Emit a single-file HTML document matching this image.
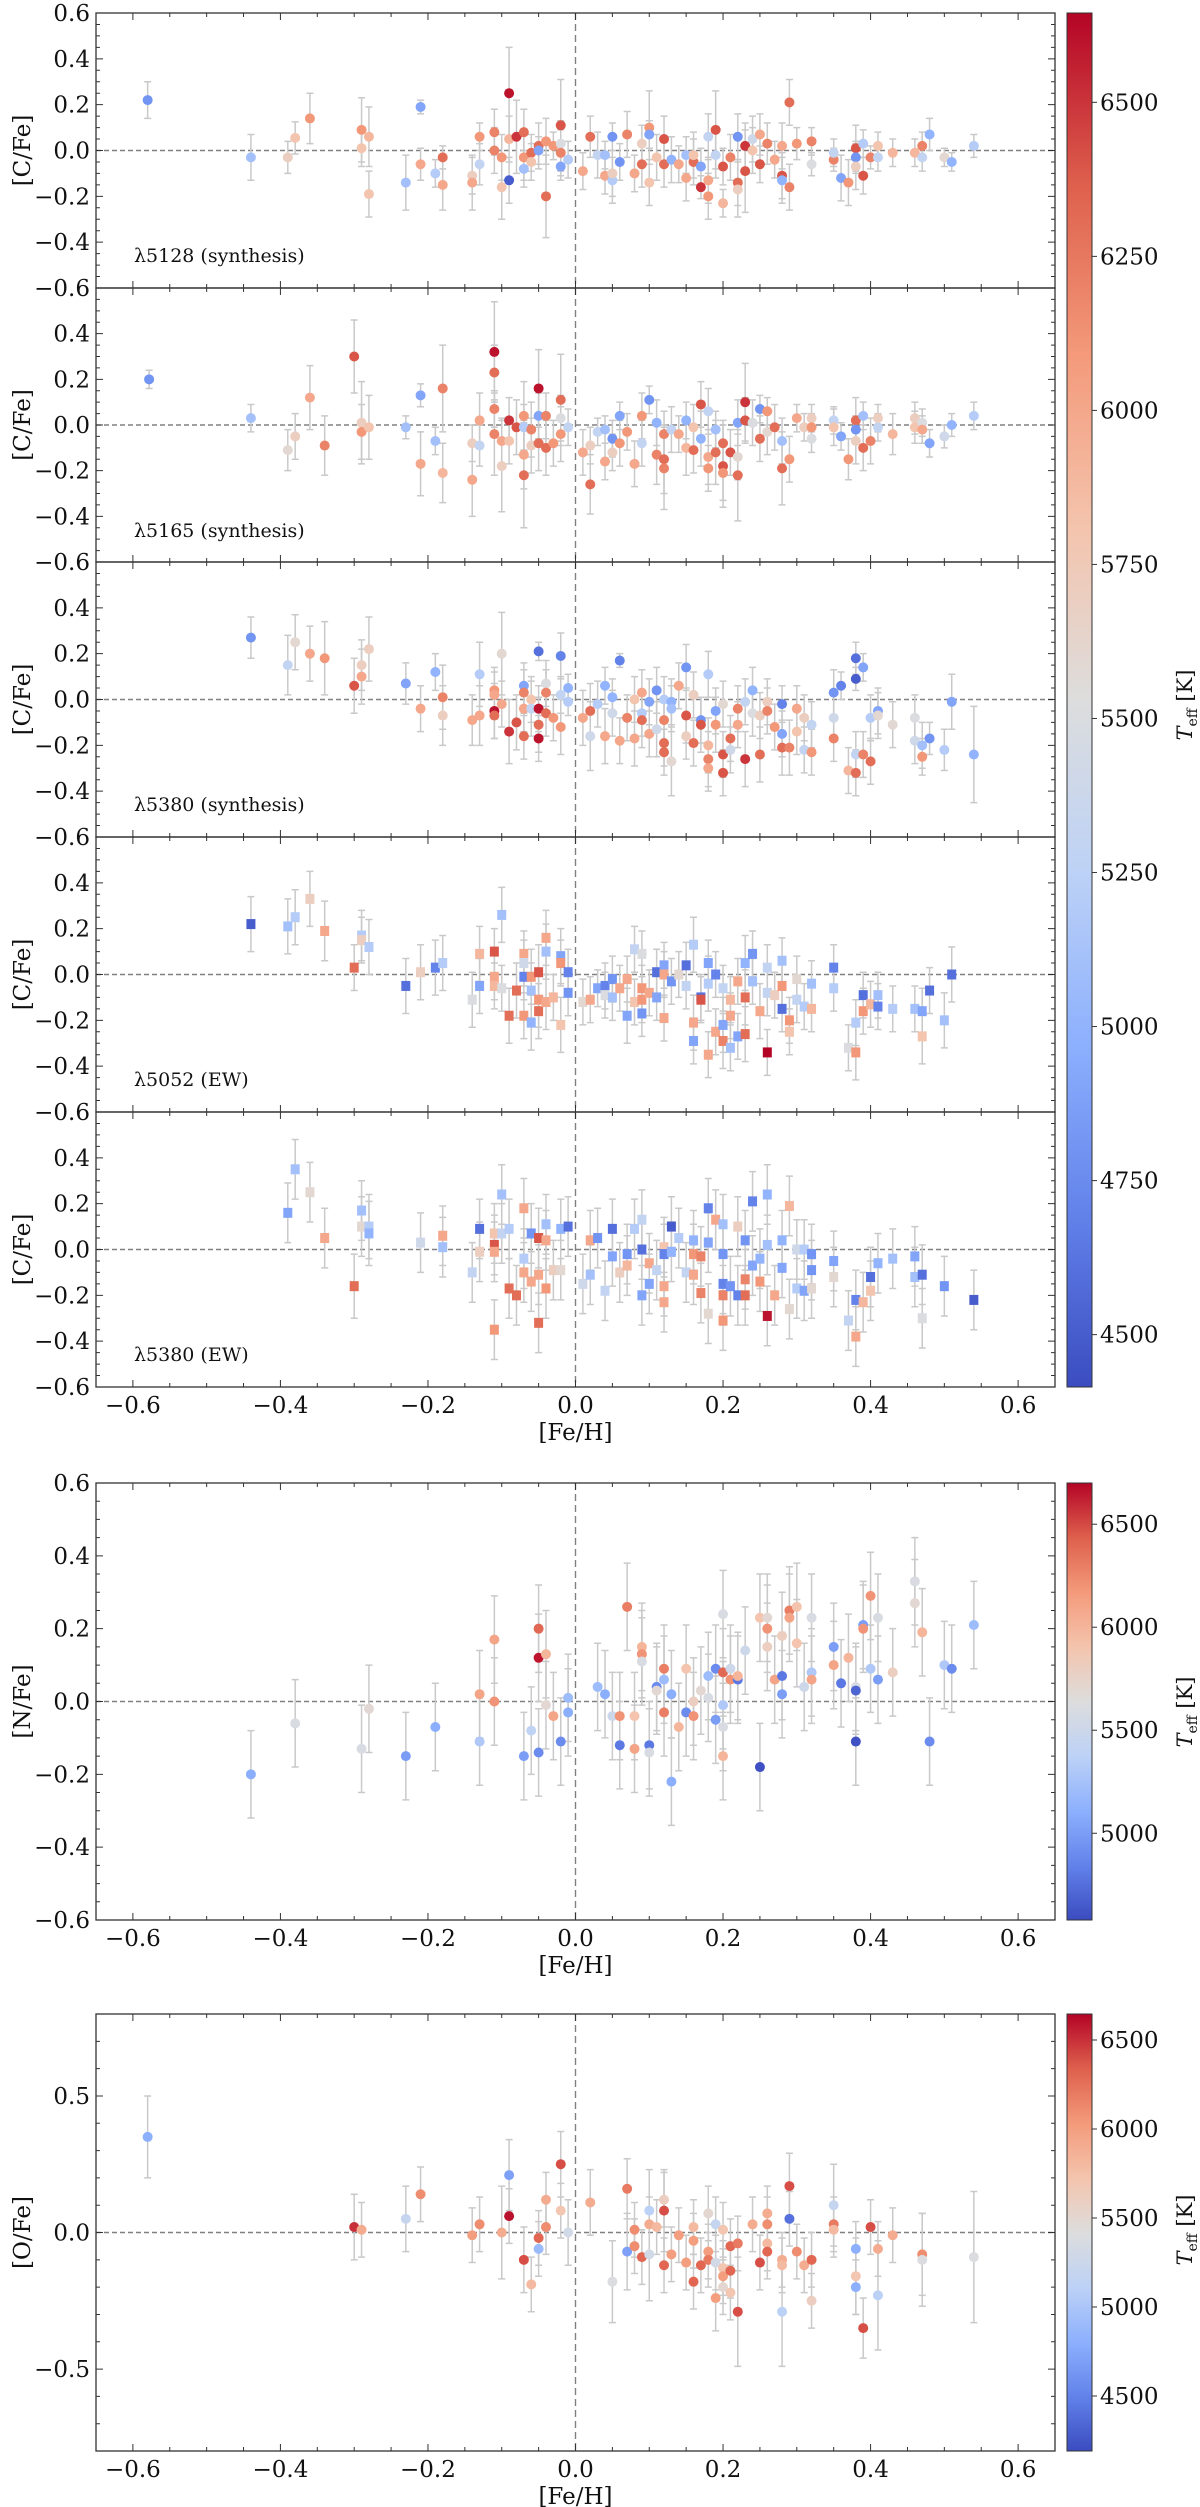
<!DOCTYPE html>
<html><head><meta charset="utf-8"><title>Abundance ratios vs [Fe/H]</title>
<style>
html,body{margin:0;padding:0;background:#fff;}
svg{display:block;font-family:"DejaVu Serif","Liberation Serif",serif;}
</style></head>
<body>
<svg id="fig" width="1200" height="2507" viewBox="0 0 1200 2507" xmlns="http://www.w3.org/2000/svg">
<defs>
<linearGradient id="cw" x1="0" y1="1" x2="0" y2="0">
<stop offset="0" stop-color="rgb(59,76,192)"/>
<stop offset="0.125" stop-color="rgb(98,130,234)"/>
<stop offset="0.25" stop-color="rgb(141,176,254)"/>
<stop offset="0.375" stop-color="rgb(189,210,246)"/>
<stop offset="0.5" stop-color="rgb(221,221,221)"/>
<stop offset="0.625" stop-color="rgb(244,196,173)"/>
<stop offset="0.75" stop-color="rgb(244,154,123)"/>
<stop offset="0.875" stop-color="rgb(222,96,77)"/>
<stop offset="1" stop-color="rgb(180,4,38)"/>
</linearGradient>
</defs>
</svg>
<script>
// ---------- data: [ [Fe/H], value, error, Teff ] ----------
const c5128Synth = [
[-0.58,0.22,0.08,4800],[-0.44,-0.03,0.1,5100],[-0.39,-0.03,0.07,5700],[-0.38,0.055,0.07,5800],[-0.36,0.14,0.11,6100],
[-0.29,0.09,0.14,6100],[-0.29,0.01,0.08,5800],[-0.28,0.06,0.13,5900],[-0.28,-0.19,0.1,5800],[-0.23,-0.14,0.12,5100],
[-0.21,0.19,0.03,4900],[-0.21,-0.06,0.07,6000],[-0.19,-0.10,0.06,5200],[-0.18,-0.03,0.05,6300],[-0.18,-0.15,0.11,6000],
[-0.14,-0.11,0.08,5700],[-0.14,-0.14,0.12,6000],[-0.13,0.06,0.06,6100],[-0.13,-0.06,0.09,5300],[-0.11,0.08,0.1,6200],
[-0.11,0.0,0.1,6200],[-0.10,-0.03,0.1,6100],[-0.10,-0.16,0.14,5800],[-0.09,0.25,0.2,6600],[-0.09,0.05,0.1,5900],
[-0.09,-0.13,0.1,4500],[-0.08,0.06,0.16,6500],[-0.07,0.08,0.1,6300],[-0.07,-0.03,0.1,6100],[-0.07,-0.08,0.08,5100],
[-0.06,-0.01,0.08,6300],[-0.06,-0.05,0.08,5800],[-0.05,0.02,0.1,6300],[-0.05,0.0,0.06,4900],[-0.04,0.04,0.1,6100],
[-0.04,-0.20,0.18,6300],[-0.03,0.02,0.06,6100],[-0.02,0.11,0.2,6400],[-0.02,0.03,0.1,5500],[-0.02,-0.01,0.1,6200],
[-0.02,-0.07,0.06,4900],[-0.01,-0.04,0.08,5200],[0.01,-0.09,0.08,6000],[0.02,0.06,0.09,6300],[0.03,-0.02,0.1,5300],
[0.04,-0.02,0.06,5100],[0.04,-0.11,0.08,6000],[0.05,0.06,0.06,4800],[0.05,-0.13,0.1,5200],[0.05,-0.1,0.1,5700],
[0.06,-0.05,0.08,4800],[0.07,0.07,0.1,6200],[0.08,-0.10,0.08,6000],[0.09,0.03,0.08,5700],[0.09,-0.06,0.1,6300],
[0.10,0.10,0.16,6100],[0.10,0.07,0.06,4900],[0.10,-0.14,0.1,5800],[0.11,-0.03,0.1,5800],[0.12,0.05,0.1,6400],
[0.12,-0.06,0.1,6300],[0.13,-0.04,0.1,5000],[0.14,-0.06,0.08,6000],[0.15,-0.02,0.08,5100],[0.15,-0.12,0.1,6000],
[0.16,-0.05,0.1,6300],[0.16,-0.02,0.1,5800],[0.17,-0.07,0.08,4900],[0.17,-0.16,0.05,6500],[0.18,0.06,0.1,5300],
[0.18,-0.13,0.1,6000],[0.18,-0.20,0.1,6100],[0.19,0.09,0.17,6400],[0.19,-0.02,0.1,5300],[0.20,-0.07,0.08,6400],
[0.20,-0.23,0.06,5900],[0.21,-0.03,0.1,6200],[0.22,0.06,0.1,4800],[0.22,-0.14,0.1,6300],[0.22,-0.17,0.12,5700],
[0.23,0.02,0.1,6500],[0.23,-0.09,0.18,6400],[0.24,0.05,0.1,5400],[0.24,0.0,0.1,5800],[0.25,0.07,0.09,6000],
[0.25,-0.06,0.08,6400],[0.26,0.03,0.09,6200],[0.27,-0.04,0.08,6000],[0.28,0.02,0.1,6000],[0.28,-0.11,0.1,6400],
[0.28,-0.13,0.1,5000],[0.29,0.21,0.1,6300],[0.29,-0.16,0.1,6200],[0.30,0.03,0.07,6100],[0.32,0.04,0.06,6200],
[0.32,-0.06,0.05,5500],[0.35,-0.04,0.05,6200],[0.35,-0.01,0.06,5300],[0.36,-0.12,0.1,4900],[0.37,-0.14,0.1,6100],
[0.38,0.01,0.1,6400],[0.38,-0.03,0.07,4800],[0.38,-0.07,0.1,5700],[0.39,0.03,0.06,5200],[0.39,-0.11,0.08,6400],
[0.40,-0.03,0.05,6200],[0.41,0.02,0.06,5800],[0.41,-0.03,0.06,5300],[0.43,-0.01,0.06,5900],[0.46,-0.01,0.06,5900],
[0.47,0.02,0.06,6200],[0.47,-0.03,0.06,5300],[0.48,0.07,0.07,5000],[0.50,-0.03,0.04,5600],[0.51,-0.05,0.04,5000],
[0.54,0.02,0.05,5200]];
const c5165Synth = [
[-0.578,0.20,0.04,4800],[-0.44,0.03,0.06,5100],[-0.39,-0.11,0.09,5600],[-0.38,-0.05,0.1,5700],[-0.36,0.12,0.14,6000],
[-0.34,-0.09,0.13,6200],[-0.30,0.30,0.16,6400],[-0.29,0.01,0.18,5700],[-0.29,-0.03,0.12,6100],[-0.28,-0.01,0.14,5800],
[-0.23,-0.01,0.05,5100],[-0.21,0.13,0.05,4900],[-0.21,-0.17,0.14,6000],[-0.19,-0.07,0.06,5100],[-0.18,0.16,0.19,6200],
[-0.18,-0.21,0.13,5900],[-0.14,-0.08,0.08,5700],[-0.14,-0.24,0.16,6000],[-0.13,0.02,0.12,6000],[-0.13,-0.09,0.09,5300],
[-0.11,0.32,0.22,6600],[-0.11,0.23,0.12,6300],[-0.11,0.07,0.08,6200],[-0.11,-0.04,0.18,6200],[-0.10,-0.07,0.1,6000],
[-0.10,-0.18,0.2,5700],[-0.09,0.02,0.1,6500],[-0.09,-0.07,0.1,5800],[-0.08,-0.01,0.12,6400],[-0.07,0.04,0.15,6100],
[-0.07,-0.13,0.15,6000],[-0.07,-0.22,0.23,6300],[-0.07,-0.01,0.1,5200],[-0.06,-0.02,0.12,6200],[-0.06,-0.09,0.12,5700],
[-0.05,0.16,0.17,6600],[-0.05,0.04,0.1,4900],[-0.05,-0.08,0.12,6300],[-0.04,0.04,0.1,6200],[-0.04,-0.10,0.12,6300],
[-0.03,-0.08,0.1,6100],[-0.02,0.11,0.2,6300],[-0.02,0.03,0.1,5500],[-0.02,-0.04,0.12,6100],[-0.01,-0.01,0.08,5300],
[0.01,-0.12,0.1,6000],[0.02,-0.09,0.08,5700],[0.02,-0.26,0.13,6300],[0.03,-0.03,0.06,5300],[0.04,-0.02,0.06,5100],
[0.04,-0.16,0.08,6000],[0.05,-0.06,0.08,4800],[0.05,-0.12,0.08,5700],[0.06,0.04,0.06,4900],[0.06,-0.08,0.1,6100],
[0.07,-0.03,0.08,6100],[0.08,-0.17,0.1,6000],[0.09,0.04,0.1,6100],[0.09,-0.08,0.1,5300],[0.10,0.11,0.06,4800],
[0.11,0.01,0.1,5000],[0.11,-0.13,0.13,6200],[0.12,-0.15,0.15,6300],[0.12,-0.19,0.18,6200],[0.12,-0.04,0.1,6200],
[0.13,-0.02,0.1,5300],[0.14,-0.04,0.08,6000],[0.15,0.02,0.08,5000],[0.15,-0.10,0.12,5900],[0.16,-0.11,0.1,6300],
[0.16,-0.01,0.1,5800],[0.17,0.09,0.1,6400],[0.17,-0.06,0.12,5000],[0.18,0.06,0.1,5300],[0.18,-0.14,0.12,6000],
[0.18,-0.19,0.1,6100],[0.19,-0.02,0.08,5100],[0.19,-0.12,0.14,6300],[0.20,-0.08,0.1,6300],[0.20,-0.18,0.18,6400],
[0.20,-0.21,0.12,6100],[0.21,-0.12,0.1,6400],[0.22,0.01,0.1,4900],[0.22,-0.14,0.1,5600],[0.22,-0.22,0.2,6300],
[0.23,0.10,0.17,6500],[0.23,0.02,0.1,6400],[0.24,0.01,0.1,5500],[0.25,0.07,0.06,4800],[0.25,-0.06,0.1,6300],
[0.26,0.06,0.06,6100],[0.26,-0.03,0.1,5600],[0.27,-0.01,0.1,6300],[0.28,-0.07,0.1,5100],[0.28,-0.19,0.16,6300],
[0.29,-0.15,0.1,6100],[0.30,0.03,0.06,6000],[0.31,-0.01,0.06,5700],[0.32,0.03,0.06,5700],[0.32,-0.01,0.06,6100],
[0.32,-0.06,0.06,5500],[0.35,0.02,0.06,5300],[0.35,-0.01,0.08,5800],[0.36,-0.05,0.06,4900],[0.37,-0.15,0.09,6100],
[0.38,0.02,0.1,6300],[0.38,-0.02,0.06,4800],[0.38,-0.07,0.1,5700],[0.39,0.04,0.06,5100],[0.39,-0.10,0.1,6300],
[0.40,-0.07,0.1,6200],[0.41,-0.01,0.06,5300],[0.41,0.03,0.06,5700],[0.43,-0.04,0.09,5900],[0.46,0.03,0.07,5700],
[0.46,-0.01,0.07,5800],[0.47,0.01,0.06,5500],[0.47,-0.02,0.06,6000],[0.48,-0.08,0.06,4900],[0.50,-0.05,0.05,5400],
[0.51,0.00,0.05,5000],[0.54,0.04,0.06,5200]];
const c5380Synth = [
[-0.44,0.27,0.09,4800],[-0.39,0.15,0.13,5300],[-0.38,0.25,0.12,5600],[-0.36,0.20,0.12,6000],[-0.34,0.18,0.16,6100],
[-0.30,0.06,0.12,6400],[-0.29,0.15,0.11,5700],[-0.29,0.10,0.12,6000],[-0.28,0.22,0.14,5700],[-0.23,0.07,0.09,4900],
[-0.21,-0.04,0.1,6000],[-0.19,0.12,0.08,5000],[-0.18,0.01,0.14,6200],[-0.18,-0.07,0.13,5700],[-0.14,-0.09,0.11,6000],
[-0.13,-0.07,0.13,6000],[-0.13,0.11,0.14,5200],[-0.11,0.04,0.1,6100],[-0.11,0.02,0.1,6000],[-0.11,-0.05,0.12,6600],
[-0.11,-0.07,0.1,6300],[-0.10,0.20,0.18,5600],[-0.10,-0.02,0.1,6000],[-0.09,-0.14,0.14,6500],[-0.08,-0.10,0.12,6400],
[-0.07,0.06,0.1,4900],[-0.07,0.03,0.1,6200],[-0.07,-0.04,0.1,6000],[-0.07,-0.16,0.1,6300],[-0.06,0.0,0.1,5800],
[-0.06,-0.04,0.12,5300],[-0.05,0.21,0.04,4600],[-0.05,-0.04,0.1,6600],[-0.05,-0.11,0.12,6300],[-0.05,-0.17,0.1,6600],
[-0.04,0.07,0.1,5500],[-0.04,0.03,0.1,6200],[-0.04,-0.06,0.1,6300],[-0.03,-0.08,0.1,6100],[-0.02,0.19,0.1,4700],
[-0.02,0.02,0.08,5300],[-0.02,-0.12,0.12,6100],[-0.01,0.05,0.06,5000],[-0.01,-0.01,0.06,5200],[0.01,-0.08,0.12,6000],
[0.02,-0.05,0.12,6300],[0.02,-0.16,0.15,5400],[0.03,-0.02,0.1,5200],[0.04,0.06,0.08,5000],[0.04,-0.16,0.12,6000],
[0.05,0.01,0.08,5000],[0.05,-0.06,0.1,5400],[0.06,0.17,0.03,4700],[0.06,-0.18,0.1,6000],[0.07,-0.08,0.1,6200],
[0.08,0.0,0.1,5800],[0.08,-0.17,0.12,6000],[0.09,0.03,0.1,6000],[0.09,-0.06,0.1,5200],[0.09,-0.09,0.12,6300],
[0.10,-0.01,0.1,4900],[0.10,-0.15,0.1,6000],[0.11,0.04,0.1,4800],[0.11,-0.13,0.12,5400],[0.12,0.0,0.1,5200],
[0.12,-0.09,0.1,6200],[0.12,-0.19,0.1,6300],[0.12,-0.23,0.1,6300],[0.13,-0.01,0.1,5000],[0.13,-0.04,0.1,5100],
[0.13,-0.27,0.15,5600],[0.14,0.06,0.1,6000],[0.15,0.14,0.1,4800],[0.15,-0.07,0.12,6400],[0.15,-0.16,0.1,5700],
[0.16,0.02,0.1,5700],[0.16,-0.19,0.1,6300],[0.17,-0.09,0.1,4800],[0.17,-0.11,0.12,6400],[0.18,0.11,0.1,5200],
[0.18,-0.20,0.12,5900],[0.18,-0.26,0.12,6200],[0.18,-0.30,0.1,6000],[0.19,-0.05,0.1,4900],[0.19,-0.11,0.12,6100],
[0.20,-0.02,0.1,5600],[0.20,-0.24,0.1,6400],[0.20,-0.32,0.1,6400],[0.21,-0.17,0.1,6300],[0.21,-0.22,0.1,5400],
[0.22,-0.04,0.1,6200],[0.22,-0.11,0.1,6000],[0.23,-0.01,0.1,5300],[0.23,-0.26,0.12,6500],[0.24,0.04,0.1,5000],
[0.24,-0.06,0.1,5500],[0.25,-0.07,0.1,5700],[0.25,-0.24,0.12,6300],[0.26,-0.01,0.1,5700],[0.26,-0.05,0.1,6200],
[0.27,-0.12,0.1,6100],[0.28,-0.02,0.08,4700],[0.28,-0.15,0.1,4900],[0.28,-0.21,0.12,6300],[0.29,-0.21,0.12,6200],
[0.30,-0.04,0.1,6000],[0.30,-0.14,0.1,5800],[0.31,-0.08,0.1,5700],[0.31,-0.22,0.1,5300],[0.32,-0.11,0.1,5300],
[0.32,-0.23,0.1,6100],[0.35,0.03,0.1,4800],[0.35,-0.08,0.1,5400],[0.35,-0.17,0.1,6200],[0.36,0.06,0.06,4700],
[0.37,-0.31,0.1,5900],[0.38,0.18,0.07,4600],[0.38,0.09,0.05,4500],[0.38,-0.24,0.1,5300],[0.38,-0.32,0.1,6300],
[0.39,0.14,0.06,4900],[0.39,-0.24,0.1,6200],[0.40,-0.27,0.1,6300],[0.40,-0.08,0.1,5200],[0.41,-0.05,0.1,4900],
[0.41,-0.07,0.1,5600],[0.43,-0.11,0.1,5600],[0.46,-0.08,0.1,5500],[0.46,-0.18,0.1,5400],[0.47,-0.20,0.1,5100],
[0.47,-0.25,0.08,6100],[0.48,-0.17,0.07,4800],[0.50,-0.22,0.09,5200],[0.51,-0.01,0.12,4900],[0.54,-0.24,0.21,5000]];
const c5052EW = [
[-0.44,0.22,0.12,4500],[-0.39,0.21,0.12,5100],[-0.38,0.25,0.12,5200],[-0.36,0.33,0.12,5700],[-0.34,0.19,0.13,6000],
[-0.30,0.03,0.1,6300],[-0.29,0.17,0.11,5200],[-0.29,0.15,0.1,5700],[-0.28,0.12,0.12,5200],[-0.23,-0.05,0.12,4600],
[-0.21,0.01,0.12,5700],[-0.19,0.03,0.12,4700],[-0.18,0.05,0.12,5200],[-0.14,-0.11,0.12,5500],[-0.13,0.09,0.12,5900],
[-0.13,-0.05,0.12,4900],[-0.11,0.10,0.1,6400],[-0.11,-0.01,0.1,6000],[-0.11,-0.05,0.1,5900],[-0.10,0.26,0.12,5100],
[-0.10,-0.06,0.1,5500],[-0.09,-0.18,0.12,6300],[-0.08,-0.07,0.12,6300],[-0.07,0.09,0.1,6000],[-0.07,0.05,0.1,5400],
[-0.07,-0.01,0.1,4700],[-0.07,-0.18,0.1,6100],[-0.06,-0.01,0.12,6100],[-0.06,-0.07,0.12,5100],[-0.06,-0.21,0.12,5000],
[-0.05,0.01,0.12,6400],[-0.05,-0.11,0.12,6100],[-0.05,-0.16,0.12,6300],[-0.04,0.16,0.12,6000],[-0.04,0.10,0.12,5100],
[-0.04,-0.12,0.12,6000],[-0.03,-0.10,0.1,5900],[-0.02,0.08,0.12,4900],[-0.02,0.05,0.1,6100],[-0.02,-0.22,0.12,5800],
[-0.01,0.01,0.1,4700],[-0.01,-0.08,0.1,4800],[0.01,-0.12,0.1,5600],[0.02,-0.11,0.1,6000],[0.03,-0.06,0.08,4900],
[0.04,-0.05,0.1,4700],[0.04,-0.09,0.1,5500],[0.05,-0.02,0.1,4800],[0.05,-0.10,0.1,5100],[0.06,-0.06,0.1,6000],
[0.07,-0.02,0.1,6000],[0.07,-0.18,0.12,4900],[0.08,0.11,0.1,5300],[0.08,-0.12,0.1,5800],[0.09,0.09,0.1,5500],
[0.09,-0.06,0.1,6100],[0.09,-0.11,0.1,6100],[0.09,-0.17,0.1,4800],[0.10,-0.08,0.1,6000],[0.11,0.01,0.1,4600],
[0.11,-0.10,0.1,4900],[0.12,0.04,0.1,4900],[0.12,0.0,0.1,6000],[0.12,-0.19,0.1,6000],[0.13,-0.03,0.1,4800],
[0.14,0.0,0.1,5600],[0.15,0.04,0.1,4600],[0.15,-0.05,0.1,5300],[0.16,0.13,0.12,5200],[0.16,-0.21,0.12,6000],
[0.16,-0.29,0.1,4900],[0.17,-0.10,0.1,4600],[0.17,-0.11,0.1,6400],[0.18,0.05,0.1,4900],[0.18,-0.04,0.12,5200],
[0.18,-0.35,0.1,6000],[0.19,0.0,0.1,4700],[0.19,-0.25,0.1,6000],[0.20,-0.06,0.1,5300],[0.20,-0.22,0.12,4900],
[0.20,-0.29,0.12,6200],[0.21,-0.11,0.1,5900],[0.21,-0.18,0.1,6000],[0.21,-0.32,0.1,5100],[0.22,-0.03,0.1,6000],
[0.22,-0.27,0.1,4900],[0.23,0.05,0.12,5000],[0.23,-0.10,0.12,6300],[0.23,-0.26,0.12,6300],[0.24,0.09,0.1,4800],
[0.24,-0.03,0.1,5100],[0.25,-0.16,0.12,6000],[0.26,0.03,0.1,5300],[0.26,-0.08,0.1,5300],[0.26,-0.34,0.1,6650],
[0.27,-0.09,0.1,5700],[0.28,0.06,0.1,5100],[0.28,-0.05,0.1,6100],[0.28,-0.15,0.1,4600],[0.29,-0.20,0.1,6100],
[0.29,-0.25,0.1,5800],[0.30,-0.02,0.1,5600],[0.30,-0.11,0.1,5300],[0.31,-0.14,0.1,5200],[0.32,-0.04,0.1,5100],
[0.32,-0.15,0.1,5900],[0.35,0.03,0.1,4700],[0.35,-0.06,0.1,5200],[0.37,-0.32,0.1,5500],[0.38,-0.21,0.1,5200],
[0.38,-0.34,0.12,6100],[0.39,-0.09,0.1,4600],[0.39,-0.16,0.1,6100],[0.40,-0.13,0.1,5900],[0.41,-0.09,0.1,5100],
[0.41,-0.14,0.1,4700],[0.43,-0.15,0.1,5200],[0.46,-0.15,0.1,5100],[0.47,-0.16,0.1,4900],[0.47,-0.27,0.12,5800],
[0.48,-0.07,0.1,4600],[0.50,-0.20,0.12,5100],[0.51,0.0,0.12,4600]];
const c5380EW = [
[-0.39,0.16,0.13,4900],[-0.38,0.35,0.13,5100],[-0.36,0.25,0.13,5600],[-0.34,0.05,0.13,6000],[-0.30,-0.16,0.14,6300],
[-0.29,0.10,0.13,5600],[-0.29,0.17,0.13,5100],[-0.28,0.10,0.14,5200],[-0.28,0.07,0.14,5000],[-0.21,0.03,0.13,5400],
[-0.18,0.06,0.13,6000],[-0.18,0.01,0.13,5100],[-0.14,-0.10,0.13,5300],[-0.13,0.09,0.13,4600],[-0.13,-0.01,0.13,5700],
[-0.11,0.07,0.13,5800],[-0.11,0.02,0.13,6400],[-0.11,-0.01,0.13,6000],[-0.11,-0.35,0.13,6100],[-0.10,0.24,0.13,5100],
[-0.10,0.07,0.13,5300],[-0.09,0.09,0.13,5200],[-0.09,-0.17,0.13,6300],[-0.08,-0.20,0.13,6300],[-0.07,0.18,0.13,6000],
[-0.07,-0.04,0.13,5200],[-0.07,-0.10,0.13,6000],[-0.06,0.07,0.13,4800],[-0.06,-0.14,0.13,6000],[-0.05,0.05,0.13,6400],
[-0.05,-0.11,0.13,6000],[-0.05,-0.32,0.13,6300],[-0.04,0.11,0.13,5100],[-0.04,0.04,0.13,6000],[-0.04,-0.17,0.13,6100],
[-0.03,-0.09,0.13,5700],[-0.02,0.09,0.13,5000],[-0.02,-0.09,0.13,5600],[-0.01,0.10,0.13,4600],[0.01,-0.15,0.13,5400],
[0.02,0.04,0.13,6000],[0.02,-0.11,0.13,5100],[0.03,0.05,0.13,4800],[0.04,-0.18,0.13,5300],[0.05,0.09,0.13,4600],
[0.05,-0.03,0.13,4900],[0.06,-0.10,0.13,5700],[0.07,-0.07,0.13,5900],[0.07,-0.02,0.13,4800],[0.08,0.09,0.13,5200],
[0.09,0.13,0.13,5300],[0.09,0.0,0.13,4600],[0.09,-0.20,0.13,4900],[0.10,-0.06,0.13,6000],[0.10,-0.15,0.13,4900],
[0.11,-0.09,0.13,5300],[0.12,0.01,0.13,5800],[0.12,-0.02,0.13,4700],[0.12,-0.16,0.13,6000],[0.12,-0.23,0.13,6000],
[0.13,0.10,0.13,4500],[0.13,-0.01,0.13,5000],[0.14,0.05,0.13,5200],[0.15,-0.10,0.13,5300],[0.16,0.04,0.13,5000],
[0.16,-0.02,0.13,6100],[0.16,-0.11,0.13,6000],[0.17,-0.03,0.13,6200],[0.17,-0.19,0.13,6200],[0.18,0.18,0.13,4700],
[0.18,0.03,0.13,4900],[0.18,-0.28,0.13,5600],[0.19,0.13,0.13,6000],[0.20,0.11,0.13,5100],[0.20,-0.02,0.13,4800],
[0.20,-0.15,0.13,4700],[0.20,-0.20,0.13,6200],[0.20,-0.31,0.13,6100],[0.21,-0.16,0.13,4800],[0.22,0.10,0.13,5700],
[0.22,-0.20,0.13,4700],[0.23,0.04,0.13,4800],[0.23,-0.20,0.13,6300],[0.23,-0.13,0.13,6200],[0.24,0.21,0.13,4700],
[0.24,-0.07,0.13,4900],[0.25,-0.04,0.13,5000],[0.25,-0.14,0.13,6100],[0.26,0.24,0.13,5000],[0.26,-0.29,0.13,6600],
[0.26,0.02,0.13,5100],[0.27,-0.20,0.13,6000],[0.28,0.04,0.13,5000],[0.28,-0.08,0.13,4900],[0.29,0.19,0.13,5900],
[0.29,-0.26,0.13,5600],[0.30,0.0,0.13,5400],[0.30,-0.17,0.13,5200],[0.31,0.0,0.13,5200],[0.31,-0.18,0.13,4900],
[0.32,-0.02,0.13,4800],[0.32,-0.09,0.13,4800],[0.32,-0.17,0.13,5600],[0.35,-0.05,0.13,4900],[0.35,-0.12,0.13,5600],
[0.37,-0.31,0.13,5300],[0.38,-0.22,0.13,4700],[0.38,-0.38,0.13,6000],[0.39,-0.23,0.13,5900],[0.40,-0.12,0.13,4600],
[0.40,-0.18,0.13,5800],[0.41,-0.06,0.13,5000],[0.43,-0.04,0.13,5100],[0.46,-0.03,0.13,4900],[0.46,-0.12,0.13,5100],
[0.47,-0.11,0.13,4600],[0.47,-0.30,0.13,5500],[0.50,-0.16,0.13,4800],[0.54,-0.22,0.13,4500]];
const nFe = [
[-0.44,-0.20,0.12,5100],[-0.38,-0.06,0.12,5600],[-0.29,-0.13,0.12,5600],[-0.28,-0.02,0.12,5700],[-0.23,-0.15,0.12,5000],
[-0.19,-0.07,0.12,5100],[-0.13,0.02,0.12,6100],[-0.13,-0.11,0.12,5300],[-0.11,0.17,0.12,6100],[-0.11,0.0,0.12,6200],
[-0.07,-0.15,0.12,5000],[-0.06,-0.08,0.12,5400],[-0.05,0.20,0.12,6400],[-0.05,0.12,0.12,6650],[-0.05,-0.14,0.12,4900],
[-0.04,0.13,0.12,6000],[-0.04,-0.01,0.12,5700],[-0.03,-0.04,0.12,6100],[-0.02,-0.11,0.12,4900],[-0.01,0.01,0.12,5200],
[-0.01,-0.03,0.12,5100],[0.03,0.04,0.12,5200],[0.04,0.02,0.12,5100],[0.05,-0.04,0.12,5500],[0.06,-0.04,0.12,6200],
[0.06,-0.12,0.12,4800],[0.07,0.26,0.12,6300],[0.08,-0.04,0.12,5900],[0.08,-0.13,0.12,6100],[0.09,0.15,0.12,6000],
[0.09,0.13,0.12,6200],[0.09,0.11,0.12,5600],[0.10,-0.12,0.12,4800],[0.10,-0.14,0.12,5600],[0.11,0.04,0.12,4900],
[0.11,0.03,0.12,5700],[0.12,0.09,0.12,6300],[0.12,-0.03,0.12,6300],[0.12,0.06,0.12,5200],[0.13,0.02,0.12,5100],
[0.13,-0.22,0.12,5100],[0.14,-0.07,0.12,6000],[0.15,0.09,0.12,5900],[0.15,-0.03,0.12,4900],[0.16,0.0,0.12,5800],
[0.16,-0.04,0.12,6200],[0.17,0.03,0.12,5700],[0.18,0.07,0.12,5200],[0.18,0.01,0.12,5600],[0.19,0.09,0.12,4900],
[0.19,-0.05,0.12,5000],[0.20,0.24,0.12,5600],[0.20,0.08,0.12,6400],[0.20,-0.01,0.12,5300],[0.20,-0.07,0.12,5600],
[0.20,-0.15,0.12,6000],[0.21,0.09,0.12,5500],[0.21,0.06,0.12,6200],[0.22,0.06,0.12,4800],[0.22,0.07,0.12,6000],
[0.23,0.14,0.12,5500],[0.25,0.23,0.12,5900],[0.25,-0.18,0.12,4600],[0.26,0.23,0.12,5700],[0.26,0.20,0.12,6200],
[0.26,0.15,0.12,5800],[0.27,0.06,0.12,6100],[0.28,0.07,0.12,4800],[0.28,0.02,0.12,5000],[0.28,0.18,0.12,5800],
[0.29,0.25,0.12,6300],[0.29,0.23,0.12,6100],[0.30,0.26,0.12,5900],[0.30,0.16,0.12,5900],[0.31,0.04,0.12,5500],
[0.32,0.23,0.12,5600],[0.32,0.08,0.12,5300],[0.32,0.06,0.12,6100],[0.35,0.15,0.12,5000],[0.35,0.10,0.12,6100],
[0.36,0.05,0.12,4800],[0.37,0.12,0.12,6000],[0.38,0.04,0.12,5600],[0.38,0.03,0.12,4700],[0.38,-0.11,0.12,4600],
[0.39,0.21,0.12,5000],[0.39,0.20,0.12,6200],[0.40,0.29,0.12,6200],[0.40,0.09,0.12,5300],[0.41,0.23,0.12,5600],
[0.41,0.06,0.12,5000],[0.43,0.08,0.12,5800],[0.46,0.33,0.12,5600],[0.46,0.27,0.12,5700],[0.47,0.19,0.12,6000],
[0.48,-0.11,0.12,4900],[0.50,0.10,0.12,5300],[0.51,0.09,0.12,4900],[0.54,0.21,0.12,5200]];
const oFe = [
[-0.58,0.35,0.15,4800],[-0.30,0.02,0.12,6500],[-0.29,0.01,0.1,5900],[-0.23,0.05,0.12,5200],[-0.21,0.14,0.1,6100],
[-0.14,-0.01,0.1,6000],[-0.13,0.03,0.1,6100],[-0.10,0.0,0.17,5900],[-0.09,0.21,0.13,4700],[-0.09,0.06,0.1,6600],
[-0.07,-0.10,0.12,6400],[-0.06,-0.19,0.1,5800],[-0.05,-0.06,0.1,4900],[-0.05,-0.02,0.1,6300],[-0.04,0.12,0.1,5900],
[-0.04,0.02,0.1,6100],[-0.02,0.25,0.12,6400],[-0.02,0.08,0.1,5700],[-0.01,0.0,0.12,5300],[0.02,0.11,0.12,5900],
[0.05,-0.18,0.15,5400],[0.07,0.16,0.11,6200],[0.07,-0.07,0.14,4700],[0.08,0.01,0.1,6100],[0.08,-0.05,0.1,6100],
[0.09,-0.09,0.1,6300],[0.10,0.08,0.15,5100],[0.10,0.03,0.1,5900],[0.10,-0.08,0.17,5300],[0.11,0.02,0.1,5800],
[0.12,0.12,0.1,5600],[0.12,0.08,0.15,6400],[0.12,-0.12,0.1,6300],[0.13,-0.08,0.1,6000],[0.14,-0.01,0.1,6000],
[0.15,-0.11,0.1,6000],[0.16,0.02,0.1,5800],[0.16,-0.03,0.1,6000],[0.16,-0.18,0.1,6300],[0.17,-0.12,0.1,6300],
[0.18,0.07,0.1,5500],[0.18,-0.07,0.1,6000],[0.18,-0.10,0.1,6200],[0.19,0.03,0.1,5200],[0.19,-0.11,0.1,5300],
[0.19,-0.24,0.12,6000],[0.20,0.01,0.1,5700],[0.20,-0.13,0.1,5700],[0.20,-0.16,0.1,6000],[0.20,-0.20,0.1,5500],
[0.21,-0.05,0.1,6300],[0.21,-0.14,0.1,6300],[0.21,-0.22,0.1,5700],[0.22,-0.04,0.1,6200],[0.22,-0.29,0.2,6400],
[0.24,0.03,0.1,5900],[0.25,-0.11,0.1,6400],[0.26,0.07,0.1,5900],[0.26,0.03,0.1,6100],[0.26,-0.04,0.1,5800],
[0.26,-0.07,0.1,6300],[0.28,-0.10,0.1,5900],[0.28,-0.12,0.1,5800],[0.28,-0.29,0.2,5100],[0.29,0.17,0.12,6400],
[0.29,0.05,0.1,4400],[0.30,-0.07,0.1,6100],[0.31,-0.12,0.1,5900],[0.32,-0.10,0.1,6300],[0.32,-0.25,0.1,5600],
[0.35,0.10,0.15,5200],[0.35,0.03,0.1,6200],[0.35,0.01,0.1,5800],[0.38,-0.06,0.1,4800],[0.38,-0.16,0.14,5700],
[0.38,-0.20,0.1,4800],[0.39,-0.35,0.11,6400],[0.40,0.02,0.1,6400],[0.41,-0.06,0.1,5900],[0.41,-0.23,0.2,5100],
[0.43,-0.01,0.1,5900],[0.47,-0.08,0.15,6100],[0.47,-0.10,0.17,5400],[0.54,-0.09,0.24,5400]];
const xTickLabels = [-0.6,-0.4,-0.2,0.0,0.2,0.4,0.6];
const cbTopTicks = [4500,4750,5000,5250,5500,5750,6000,6250,6500];
const cbNTicks = [5000,5500,6000,6500];
const cbOTicks = [4500,5000,5500,6000,6500];

// ---------- drawing ----------
const NS = 'http://www.w3.org/2000/svg';
const svg = document.getElementById('fig');
function mk(tag, attrs, parent){ const e=document.createElementNS(NS,tag); for(const k in attrs) e.setAttribute(k,attrs[k]); (parent||svg).appendChild(e); return e; }
const X0=96, X1=1055, XMIN=-0.65, XMAX=0.65;
function xs(f){ return X0+(f-XMIN)/(XMAX-XMIN)*(X1-X0); }
const CW=[[0,59,76,192],[0.125,98,130,234],[0.25,141,176,254],[0.375,189,210,246],[0.5,221,221,221],[0.625,244,196,173],[0.75,244,154,123],[0.875,222,96,77],[1,180,4,38]];
function cw(t){ t=Math.max(0,Math.min(1,t)); for(let i=1;i<CW.length;i++){ if(t<=CW[i][0]){ const a=CW[i-1],b=CW[i],u=(t-a[0])/(b[0]-a[0]); return 'rgb('+[1,2,3].map(k=>Math.round(a[k]+u*(b[k]-a[k]))).join(',')+')'; } } return 'rgb(180,4,38)'; }
function fmt(v){ const s=Math.abs(v).toFixed(1); return (v< -1e-9?'\u2212':'')+s; }

function panel(o){
  const g=mk('g',{});
  
  
  const T=o.top,B=o.top+o.h;
  const ys=v=>T+(o.ymax-v)/(o.ymax-o.ymin)*o.h;
  // reference lines
  const hl=mk('line',{x1:X0,x2:X1,y1:ys(0),y2:ys(0),stroke:'#808080','stroke-width':1.6,'stroke-dasharray':'5,3'},g);
  
  
  const vl=mk('line',{x1:xs(0),x2:xs(0),y1:T,y2:B,stroke:'#808080','stroke-width':1.4,'stroke-dasharray':'7,4'},g);
  
  
  // error bars
  o.data.forEach(d=>{
    const x=xs(d[0]),y1=ys(d[1]-d[2]),y2=ys(d[1]+d[2]);
    const eb=mk('path',{d:`M${x},${y1}V${y2}M${x-3.5},${y1}h7M${x-3.5},${y2}h7`,stroke:'#c9c9c9','stroke-width':1.5,fill:'none'},g);
    
    
  });
  // markers
  o.data.forEach(d=>{
    const x=xs(d[0]),y=ys(d[1]),c=cw((d[3]-o.tmin)/(o.tmax-o.tmin));
    let m;
    if(o.square) m=mk('rect',{x:x-4.5,y:y-5,width:9,height:10,fill:c},g);
    else m=mk('circle',{cx:x,cy:y,r:5,fill:c},g);
    
    
  });
  // frame
  const fr=mk('rect',{x:X0,y:T,width:X1-X0,height:o.h,fill:'none',stroke:'#333','stroke-width':1.3},g);
  
  
  // ticks
  let tp='';
  for(let i=-13;i<=13;i++){ const f=i*0.05; const x=xs(f); const major=(i%4===0); const L=major?7:4; tp+=`M${x},${B}v${-L}M${x},${T}v${L}`; }
  const nY=Math.round((o.ymax-o.ymin)/o.minor);
  for(let i=0;i<=nY;i++){ const v=o.ymin+i*o.minor; const y=ys(v); const major=Math.abs(v/o.major-Math.round(v/o.major))<1e-6; const L=major?7:4; tp+=`M${X0},${y}h${L}M${X1},${y}h${-L}`; }
  const tk=mk('path',{d:tp,stroke:'#333','stroke-width':1,fill:'none'},g);
  
  
  // y tick labels
  o.ylabels.forEach(v=>{
    const t=mk('text',{x:X0-6,y:ys(v)+8,'text-anchor':'end','font-size':23,fill:'#111'},g);
    t.textContent=fmt(v);
    
    
  });
  const yl=mk('text',{x:0,y:0,'text-anchor':'middle','font-size':23,fill:'#111',transform:`translate(30,${(T+B)/2}) rotate(-90)`},g);
  yl.textContent=o.ytitle;
  
  
  if(o.note){
    const nt=mk('text',{x:134,y:T+249,'font-size':19,fill:'#111'},g);
    nt.textContent=o.note;
    
    
  }
  if(o.xlabels){
    xTickLabels.forEach(f=>{
      const t=mk('text',{x:xs(f),y:B+26,'text-anchor':'middle','font-size':23,fill:'#111'},g);
      t.textContent=fmt(f);
      
      
    });
    const xt=mk('text',{x:xs(0),y:B+53,'text-anchor':'middle','font-size':23,fill:'#111'},g);
    xt.textContent='[Fe/H]';
    
    
  }
}
function colorbar(o){
  const g=mk('g',{});
  
  
  const r=mk('rect',{x:1067,y:o.top,width:25,height:o.h,fill:'url(#cw)',stroke:'#333','stroke-width':1},g);
  
  
  o.ticks.forEach(t=>{
    const y=o.top+(o.tmax-t)/(o.tmax-o.tmin)*o.h;
    const l=mk('line',{x1:1092,x2:1097,y1:y,y2:y,stroke:'#333','stroke-width':1},g);
    
    
    const tx=mk('text',{x:1100,y:y+8,'font-size':23,fill:'#111'},g);
    tx.textContent=String(t);
    
    
  });
  const lab=mk('text',{x:0,y:0,'text-anchor':'middle','font-size':21,fill:'#111',transform:`translate(1192,${o.labelY}) rotate(-90)`},g);
  lab.innerHTML='<tspan font-style="italic">T</tspan><tspan font-size="14" dy="5">eff</tspan><tspan dy="-5"> [K]</tspan>';
  
  
}
const topT=[4415,6645];
const cPanels=[
  ['panel-c-5128-synthesis',c5128Synth,'\u03bb5128 (synthesis)',false],
  ['panel-c-5165-synthesis',c5165Synth,'\u03bb5165 (synthesis)',false],
  ['panel-c-5380-synthesis',c5380Synth,'\u03bb5380 (synthesis)',false],
  ['panel-c-5052-ew',c5052EW,'\u03bb5052 (EW)',true],
  ['panel-c-5380-ew',c5380EW,'\u03bb5380 (EW)',true]];
const tops=[13,288,562,837,1112];
cPanels.forEach((p,i)=>{
  panel({name:p[0],data:p[1],note:p[2],square:p[3],top:tops[i],h:(i<4?tops[i+1]:1387)-tops[i],ymin:-0.6,ymax:0.6,major:0.2,minor:0.05,
    ylabels:i===0?[-0.6,-0.4,-0.2,0,0.2,0.4,0.6]:[-0.6,-0.4,-0.2,0,0.2,0.4],ytitle:'[C/Fe]',tmin:topT[0],tmax:topT[1],xlabels:i===4});
});
colorbar({name:'colorbar-carbon',top:13,h:1374,tmin:topT[0],tmax:topT[1],ticks:cbTopTicks,labelY:705});
panel({name:'panel-n-fe',data:nFe,top:1483,h:437,ymin:-0.6,ymax:0.6,major:0.2,minor:0.05,ylabels:[-0.6,-0.4,-0.2,0,0.2,0.4,0.6],ytitle:'[N/Fe]',tmin:4579,tmax:6700,xlabels:true});
colorbar({name:'colorbar-nitrogen',top:1483,h:437,tmin:4579,tmax:6700,ticks:cbNTicks,labelY:1712});
panel({name:'panel-o-fe',data:oFe,top:2014,h:437,ymin:-0.8,ymax:0.8,major:0.5,minor:0.1,ylabels:[-0.5,0,0.5],ytitle:'[O/Fe]',tmin:4191,tmax:6646,xlabels:true});
colorbar({name:'colorbar-oxygen',top:2014,h:437,tmin:4191,tmax:6646,ticks:cbOTicks,labelY:2230});
</script>
</body></html>
